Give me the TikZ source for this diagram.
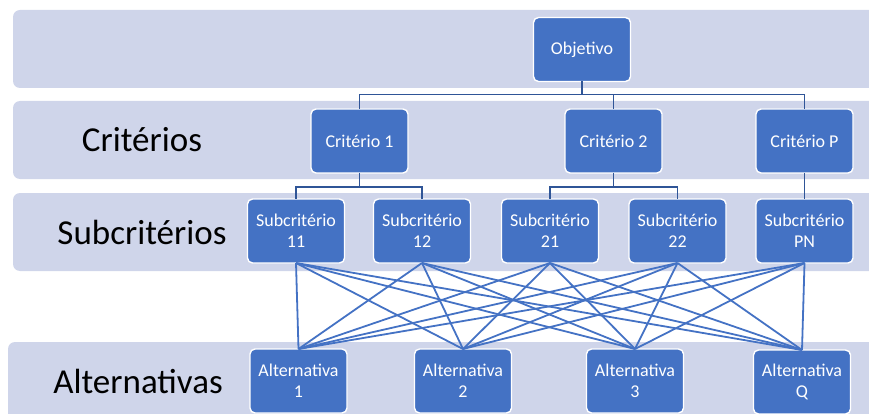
\documentclass[tikz,border=0pt]{standalone}
\usepackage{fontspec}
\setmainfont{Carlito}
\usetikzlibrary{positioning}
\definecolor{band}{HTML}{CFD5EA}
\definecolor{nodecol}{HTML}{4472C4}
\definecolor{linecol}{HTML}{4472C4}
\definecolor{treecol}{HTML}{2F5597}

\begin{document}
\begin{tikzpicture}[
  x=1pt, y=-1pt,
  node distance=5mm and 30pt,
  lane/.style={fill=band, draw=none, rounded corners=7pt},
  box/.style={rounded corners=5pt, draw=white, line width=1.4pt, fill=nodecol, text=white,
              inner sep=2pt, outer sep=0pt, align=center, minimum width=97pt,
              minimum height=64pt, font=\fontsize{18}{21}\selectfont},
  level/.style={font=\fontsize{35}{40}\selectfont, text=black},
  ln/.style={draw=linecol, line width=1.8pt},
  tree/.style={draw=treecol, line width=1.5pt},
]
\useasboundingbox (0,0) rectangle (869,414);
\clip (0,0) rectangle (869,414);
% lanes
\fill[lane] (13,10) rectangle (890,88);
\fill[lane] (13,101) rectangle (890,179);
\fill[lane] (13,193) rectangle (890,271);
\fill[lane] (8,342) rectangle (890,440);
\node[level] (lc) at (142,140) {Critérios};
\node[level] (ls) at (142,232) {Subcritérios};
\node[level] (la) at (138,381) {Alternativas};
% goal and criteria
\node[box] (obj) at (582,49.5) {Objetivo};
\node[box] (c1) at (359.5,141) {Critério 1};
\node[box] (c2) at (613.5,141) {Critério 2};
\node[box] (cP) at (804.5,141) {Critério P};
% subcriteria
\node[box] (s11) at (296,231) {Subcritério\\11};
\node[box, right=29pt of s11] (s12) {Subcritério\\12};
\node[box, right=31pt of s12] (s21) {Subcritério\\21};
\node[box, right=30.5pt of s21] (s22) {Subcritério\\22};
\node[box, right=30pt of s22] (sPN) {Subcritério\\PN};
% alternatives
\node[box] (a1) at (298.5,381) {Alternativa\\1};
\node[box] (a2) at (463,381) {Alternativa\\2};
\node[box] (a3) at (635,381) {Alternativa\\3};
\node[box] (aQ) at (802,382) {Alternativa\\Q};
% tree
\foreach \c in {c1,c2,cP} \draw[tree] (obj.south) -- ++(0,13) -| (\c.north);
\foreach \s in {s11,s12} \draw[tree] (c1.south) -- ++(0,14) -| (\s.north);
\foreach \s in {s21,s22} \draw[tree] (c2.south) -- ++(0,14) -| (\s.north);
\draw[tree] (cP.south) -- (sPN.north);
% every subcriterion to every alternative
\foreach \s in {s11,s12,s21,s22,sPN}
  \foreach \a in {a1,a2,a3,aQ} \draw[ln] (\s.south) -- (\a.north);
\end{tikzpicture}
\end{document}
